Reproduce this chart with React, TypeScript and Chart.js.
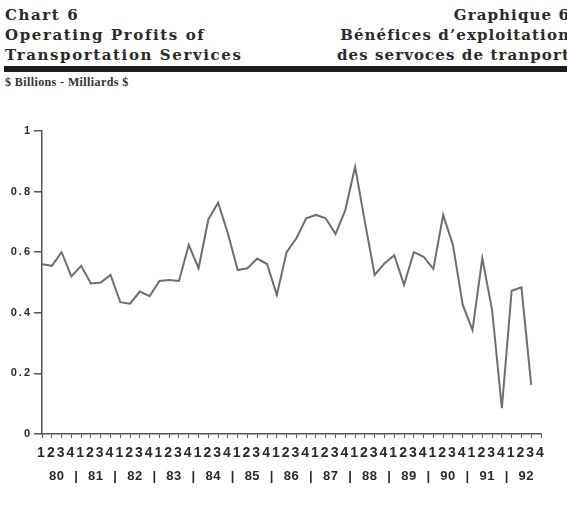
import React, { useEffect, useRef } from "react";
import { Chart, registerables } from "chart.js";

Chart.register(...registerables);

const YEARS = ["80", "81", "82", "83", "84", "85", "86", "87", "88", "89", "90", "91", "92"];
const QUARTERS = ["1", "2", "3", "4"];
// Operating profits, $ billions, quarterly from 1980 Q1 to 1992 Q3
const PROFITS = [
  0.56, 0.555, 0.6, 0.52,
  0.555, 0.497, 0.5, 0.525,
  0.435, 0.43, 0.47, 0.455,
  0.505, 0.508, 0.505, 0.624,
  0.547, 0.708, 0.763, 0.662,
  0.541, 0.547, 0.579, 0.561,
  0.459, 0.6, 0.646, 0.712,
  0.723, 0.712, 0.66, 0.739,
  0.882, 0.7, 0.525, 0.563,
  0.59, 0.492, 0.6, 0.585,
  0.545, 0.723, 0.624, 0.426,
  0.343, 0.58, 0.41, 0.085,
  0.473, 0.484, 0.162,
];
const Y_MIN = 0;
const Y_MAX = 1;
const Y_STEP = 0.2;

const QUARTER_LABELS: string[] = [];
YEARS.forEach(() => QUARTERS.forEach((q) => QUARTER_LABELS.push(q)));

const AXIS_COLOR = "#555555";
const TEXT_COLOR = "#2a2a2a";
const SANS = "'Liberation Sans', Arial, sans-serif";

const spacingPlugin = {
  id: "letterSpacing",
  beforeDraw(chart: any) {
    chart.ctx.letterSpacing = "2px";
  },
};

const yearPlugin = {
  id: "yearRow",
  afterDraw(chart: any) {
    const ctx = chart.ctx;
    const x = chart.scales.x;
    const y = chart.chartArea.bottom + 42;
    ctx.save();
    ctx.letterSpacing = "0.5px";
    ctx.fillStyle = TEXT_COLOR;
    ctx.font = `bold 13px ${SANS}`;
    ctx.textAlign = "center";
    ctx.textBaseline = "middle";
    YEARS.forEach((yr, i) => {
      const cx = x.getPixelForValue(i * QUARTERS.length + 1.5);
      ctx.fillText(yr, cx, y);
      if (i < YEARS.length - 1) {
        const sx = x.getPixelForValue(i * QUARTERS.length + 3.5);
        ctx.fillText("|", sx, y);
      }
    });
    ctx.restore();
  },
};

export default function App() {
  const canvasRef = useRef<HTMLCanvasElement | null>(null);

  useEffect(() => {
    document.body.style.margin = "0";
    const canvas = canvasRef.current;
    if (!canvas) return;
    const chart = new Chart(canvas, {
      type: "line",
      data: {
        labels: QUARTER_LABELS,
        datasets: [
          {
            data: PROFITS,
            borderColor: "#6e6e6e",
            borderWidth: 2,
            pointRadius: 0,
            tension: 0,
            fill: false,
          },
        ],
      },
      options: {
        responsive: false,
        animation: false,
        maintainAspectRatio: false,
        layout: { padding: { left: 0, right: 26, top: 31, bottom: 0 } },
        plugins: {
          legend: { display: false },
          tooltip: { enabled: false },
          title: { display: false },
        },
        scales: {
          x: {
            type: "category",
            offset: false,
            afterFit(scale: any) {
              scale.height = 74;
            },
            border: { display: true, color: AXIS_COLOR, width: 1.5 },
            grid: {
              drawOnChartArea: false,
              drawTicks: true,
              tickLength: 4,
              color: AXIS_COLOR,
              lineWidth: 1,
            },
            ticks: {
              autoSkip: false,
              maxRotation: 0,
              minRotation: 0,
              padding: 7,
              color: TEXT_COLOR,
              font: { family: SANS, size: 14, weight: "bold" },
            },
          },
          y: {
            min: Y_MIN,
            max: Y_MAX,
            afterFit(scale: any) {
              scale.width = 42;
            },
            border: { display: true, color: AXIS_COLOR, width: 1.5 },
            grid: {
              drawOnChartArea: false,
              drawTicks: true,
              tickLength: 8,
              color: AXIS_COLOR,
              lineWidth: 1.5,
            },
            ticks: {
              stepSize: Y_STEP,
              padding: 2,
              color: TEXT_COLOR,
              font: { family: SANS, size: 11, weight: "bold" },
              callback: (v: any) => String(+Number(v).toFixed(2)),
            },
          },
        },
      },
      plugins: [spacingPlugin, yearPlugin],
    });
    return () => chart.destroy();
  }, []);

  const headFont = "bold 15px 'DejaVu Serif', serif";
  return (
    <div style={{ position: "relative", width: 567, height: 508, background: "#fff", overflow: "hidden" }}>
      <div
        style={{
          position: "absolute",
          left: 5,
          top: 5,
          font: headFont,
          letterSpacing: "1.6px",
          lineHeight: "20px",
          color: "#2a2a2a",
          whiteSpace: "nowrap",
        }}
      >
        Chart 6
        <br />
        Operating Profits of
        <br />
        Transportation Services
      </div>
      <div
        style={{
          position: "absolute",
          right: -3,
          top: 5,
          font: headFont,
          letterSpacing: "1.1px",
          lineHeight: "20px",
          color: "#2a2a2a",
          textAlign: "right",
          whiteSpace: "nowrap",
        }}
      >
        Graphique 6
        <br />
        Bénéfices d’exploitation
        <br />
        des servoces de tranport
      </div>
      <div style={{ position: "absolute", left: 4, right: 0, top: 66, height: 6, background: "#1c1c1c" }} />
      <div
        style={{
          position: "absolute",
          left: 5,
          top: 75,
          font: "bold 12px 'Liberation Serif', serif",
          letterSpacing: "0.4px",
          color: "#333",
          whiteSpace: "nowrap",
        }}
      >
        $ Billions - Milliards $
      </div>
      <canvas ref={canvasRef} width={567} height={408} style={{ position: "absolute", left: 0, top: 100 }} />
    </div>
  );
}
